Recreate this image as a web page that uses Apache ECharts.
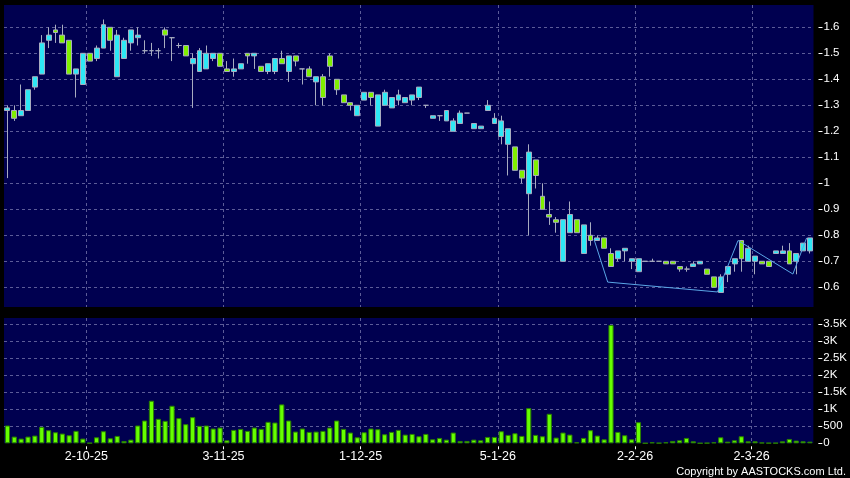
<!DOCTYPE html>
<html>
<head>
<meta charset="utf-8">
<script src="https://cdn.jsdelivr.net/npm/echarts@6/dist/echarts.min.js"></script>
<style>
html,body{margin:0;padding:0;background:#000;}
#c{width:850px;height:478px;}
</style>
</head>
<body>
<div id="c"></div>
<script>
// ---- data ----
const opens = [1.28,1.28,1.26,1.28,1.37,1.42,1.55,1.59,1.57,1.55, 1.42,1.38,1.50,1.48,1.52,1.60,1.41,1.48,1.54,1.56, 1.51,1.51,1.51,1.59,1.56,1.53,1.53,1.46,1.43,1.44, 1.48,1.50,1.44,1.43,1.44,1.50,1.49,1.45,1.43,1.43, 1.48,1.43,1.49,1.44,1.44,1.39,1.41,1.49,1.40,1.34, 1.31,1.26,1.32,1.35,1.22,1.30,1.29,1.32,1.31,1.32, 1.33,1.30,1.25,1.26,1.24,1.20,1.23,1.27,1.21,1.21, 1.28,1.23,1.18,1.15,1.14,1.05,0.96,1.09,0.95,0.88, 0.86,0.70,0.81,0.86,0.73,0.80,0.78,0.79,0.73,0.71, 0.74,0.70,0.66,0.70,0.70,0.70,0.70,0.70,0.68,0.67, 0.68,0.69,0.67,0.64,0.58,0.65,0.69,0.78,0.70,0.70, 0.70,0.70,0.73,0.73,0.74,0.70,0.74,0.74];
const closes = [1.29,1.25,1.28,1.36,1.41,1.54,1.57,1.58,1.54,1.42, 1.44,1.50,1.47,1.52,1.61,1.55,1.57,1.55,1.59,1.57, 1.51,1.51,1.51,1.57,1.56,1.53,1.49,1.48,1.51,1.50, 1.50,1.45,1.43,1.44,1.46,1.49,1.50,1.43,1.46,1.48, 1.46,1.49,1.47,1.44,1.41,1.41,1.33,1.45,1.36,1.31, 1.30,1.30,1.35,1.33,1.34,1.35,1.33,1.34,1.33,1.34, 1.37,1.30,1.26,1.26,1.28,1.24,1.27,1.27,1.23,1.22, 1.30,1.25,1.24,1.21,1.05,1.02,1.12,1.03,0.90,0.87, 0.85,0.86,0.88,0.81,0.84,0.78,0.79,0.75,0.68,0.74, 0.75,0.71,0.71,0.70,0.70,0.70,0.69,0.69,0.67,0.67, 0.69,0.70,0.65,0.60,0.64,0.68,0.71,0.71,0.75,0.72, 0.69,0.68,0.74,0.74,0.69,0.73,0.77,0.79];
const lows = [1.02,1.24,1.26,1.28,1.36,1.42,1.52,1.54,1.54,1.42, 1.33,1.38,1.47,1.47,1.52,1.51,1.41,1.48,1.51,1.53, 1.50,1.49,1.48,1.52,1.47,1.52,1.49,1.29,1.43,1.44, 1.47,1.45,1.43,1.41,1.44,1.46,1.44,1.43,1.42,1.42, 1.46,1.39,1.45,1.38,1.41,1.30,1.30,1.41,1.34,1.31, 1.28,1.26,1.32,1.30,1.22,1.30,1.29,1.30,1.31,1.30, 1.32,1.29,1.25,1.24,1.24,1.20,1.23,1.27,1.21,1.21, 1.28,1.23,1.15,1.03,1.05,1.00,0.80,0.98,0.90,0.84, 0.81,0.70,0.81,0.81,0.73,0.76,0.78,0.75,0.68,0.70, 0.70,0.67,0.66,0.70,0.70,0.70,0.69,0.69,0.66,0.66, 0.68,0.69,0.65,0.60,0.58,0.62,0.66,0.66,0.70,0.65, 0.69,0.68,0.73,0.73,0.69,0.65,0.74,0.73];
const highs = [1.30,1.30,1.38,1.36,1.41,1.57,1.60,1.61,1.61,1.55, 1.44,1.50,1.50,1.53,1.63,1.60,1.59,1.56,1.59,1.60, 1.55,1.54,1.52,1.60,1.56,1.54,1.53,1.50,1.52,1.53, 1.50,1.50,1.47,1.48,1.46,1.50,1.50,1.45,1.46,1.48, 1.51,1.49,1.49,1.44,1.45,1.41,1.42,1.50,1.40,1.34, 1.31,1.30,1.35,1.35,1.34,1.36,1.33,1.36,1.33,1.34, 1.37,1.30,1.26,1.26,1.28,1.25,1.28,1.27,1.23,1.22, 1.32,1.27,1.26,1.21,1.14,1.05,1.15,1.09,1.00,0.93, 0.87,0.86,0.93,0.86,0.84,0.85,0.80,0.79,0.75,0.74, 0.75,0.71,0.71,0.70,0.71,0.70,0.70,0.70,0.68,0.68, 0.70,0.70,0.67,0.64,0.65,0.68,0.71,0.78,0.76,0.72, 0.70,0.70,0.74,0.76,0.77,0.73,0.77,0.79];
const volumes = [523,197,138,197,227,483,385,325,286,237, 365,138,10,177,355,148,217,69,108,523, 670,1252,720,660,1104,740,562,769,513,523, 434,463,89,394,424,365,463,424,631,611, 1144,670,345,434,335,345,365,463,670,424, 316,177,325,434,414,266,335,394,256,276, 207,276,118,158,108,316,69,69,108,89, 187,187,355,247,296,217,1035,247,207,868, 168,316,256,30,158,385,227,118,3480,335, 237,118,621,3,30,10,30,69,89,158, 59,3,10,30,177,49,89,207,59,59, 20,10,10,59,128,79,59,49];
// zigzag pattern line: bar index (at bar left edge) and price
const zigIndex = [86, 88, 104, 107, 115, 117];
const zigValue = [0.785, 0.62, 0.582, 0.78, 0.651, 0.79];
// x-axis tick labels and the bar index where each month starts
const tickLabels = ['2-10-25', '3-11-25', '1-12-25', '5-1-26', '2-2-26', '2-3-26'];
const tickIndex = [12, 32, 52, 72, 92, 109];
// price / volume axis settings
const priceMin = 0.5242, priceMax = 1.6858;
const volMax = 3685;

// ---- build ----
const N = opens.length;
const categories = opens.map((_, i) => String(i));
const edges = [];
for (let k = 0; k <= N; k++) {
  const t = tickIndex.indexOf(k);
  edges.push(t >= 0 ? tickLabels[t] : 'e' + k);
}
const isTick = (idx) => tickIndex.indexOf(idx) >= 0;
const candleData = opens.map((o, i) => [o, closes[i], lows[i], highs[i]]);
const zigData = edges.map(() => null);
zigIndex.forEach((k, j) => { zigData[k] = zigValue[j]; });

const NAVY = '#000050';
const GRIDC = '#5c5c98';
const CYAN = '#2ee8f5';
const GREEN = '#80f000';
const WICK = '#a8acc0';
const FONT = 'Liberation Sans, Arial, sans-serif';

const chart = echarts.init(document.getElementById('c'), null, {renderer: 'canvas'});
const hiddenCat = (grid, data, gap) => ({
  type: 'category', gridIndex: grid, data: data, boundaryGap: gap,
  axisLine: {show: false}, axisTick: {show: false}, axisLabel: {show: false}, splitLine: {show: false}
});
const dashed = {show: true, lineStyle: {color: GRIDC, type: [3, 3], width: 1}};

chart.setOption({
  animation: false,
  backgroundColor: '#000000',
  grid: [
    {left: 4, right: 36.5, top: 5, height: 302, show: true, backgroundColor: NAVY, borderWidth: 0},
    {left: 4, right: 36.5, top: 318, height: 125.3, show: true, backgroundColor: NAVY, borderWidth: 0}
  ],
  xAxis: [
    hiddenCat(0, categories, true),
    Object.assign(hiddenCat(0, edges, false), {splitLine: Object.assign({interval: (i) => isTick(i)}, dashed)}),
    hiddenCat(1, categories, true),
    {
      type: 'category', gridIndex: 1, data: edges, boundaryGap: false, position: 'bottom', offset: 3,
      axisLine: {show: false},
      axisTick: {show: true, interval: (i) => isTick(i), length: 3, lineStyle: {color: '#ffffff'}},
      axisLabel: {show: true, interval: (i) => isTick(i), color: '#ffffff', fontSize: 12.5, fontFamily: FONT, margin: 4},
      splitLine: Object.assign({interval: (i) => isTick(i)}, dashed)
    }
  ],
  yAxis: [
    {
      type: 'value', gridIndex: 0, position: 'right', offset: 5,
      min: priceMin, max: priceMax, splitNumber: 12, minInterval: 0.1, maxInterval: 0.1,
      axisLine: {show: false},
      axisTick: {show: true, length: 4, lineStyle: {color: '#ffffff'}},
      axisLabel: {color: '#ffffff', fontSize: 11.5, fontFamily: FONT, margin: 5, showMinLabel: false, showMaxLabel: false,
        formatter: (v) => String(Number(v.toFixed(1)))},
      splitLine: Object.assign({showMinLine: false, showMaxLine: false}, dashed)
    },
    {
      type: 'value', gridIndex: 1, position: 'right', offset: 5,
      min: 0, max: volMax, splitNumber: 7, minInterval: 500, maxInterval: 500,
      axisLine: {show: false},
      axisTick: {show: true, length: 4, lineStyle: {color: '#ffffff'}},
      axisLabel: {color: '#ffffff', fontSize: 11.5, fontFamily: FONT, margin: 5, showMinLabel: true, showMaxLabel: false,
        formatter: (v) => v >= 1000 ? (v / 1000) + 'K' : String(v)},
      splitLine: Object.assign({showMinLine: false, showMaxLine: false}, dashed)
    }
  ],
  series: [
    {
      type: 'candlestick', xAxisIndex: 0, yAxisIndex: 0, data: candleData, barWidth: 5.4,
      itemStyle: {color: CYAN, color0: GREEN, borderColor: WICK, borderColor0: WICK, borderColorDoji: WICK, borderWidth: 1}
    },
    {
      type: 'line', xAxisIndex: 1, yAxisIndex: 0, data: zigData, connectNulls: true,
      symbol: 'none', lineStyle: {color: '#5aa6e6', width: 1}, z: 5
    },
    {
      type: 'bar', xAxisIndex: 2, yAxisIndex: 1, data: volumes, barWidth: 5.2,
      itemStyle: {color: '#66ff00', borderColor: '#2a8000', borderWidth: 1}
    }
  ],
  graphic: [
    {type: 'text', right: 4, bottom: 1, style: {text: 'Copyright by AASTOCKS.com Ltd.', fill: '#ffffff', font: '11px ' + FONT}}
  ]
});
</script>
</body>
</html>
